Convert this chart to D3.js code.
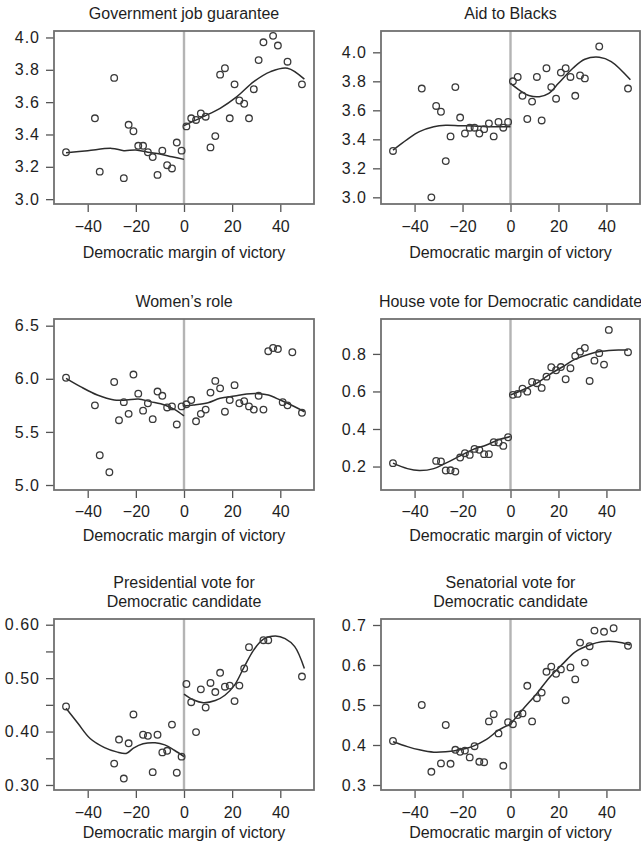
<!DOCTYPE html>
<html><head><meta charset="utf-8">
<script src="https://cdn.jsdelivr.net/npm/d3@7"></script>
<style>
body{margin:0;background:#fff;}
svg text{font-family:"Liberation Sans",Arial,Helvetica,sans-serif;fill:#1e1e1e;}
</style></head><body>
<svg id="chart" width="641" height="847"></svg>
<script>
// ---------------- DATA ----------------
const xTicks = [-40, -20, 0, 20, 40];
const xLabel = "Democratic margin of victory";

// Government job guarantee
const govX = [-49,-37,-35,-29,-25,-23,-21,-19,-17,-15,-13,-11,-9,-7,-5,-3,-1,1,3,5,7,9,11,13,15,17,19,21,23,25,27,29,31,33,37,39,43,49];
const govY = [3.29,3.50,3.17,3.75,3.13,3.46,3.42,3.33,3.33,3.29,3.26,3.15,3.30,3.21,3.19,3.35,3.30,3.45,3.50,3.49,3.53,3.51,3.32,3.39,3.77,3.81,3.50,3.71,3.61,3.59,3.50,3.68,3.86,3.97,4.01,3.95,3.85,3.71];
const govFitLX = [-49,-40,-30,-25,-20,-15,-10,-5,0];
const govFitLY = [3.287,3.300,3.314,3.300,3.304,3.290,3.279,3.262,3.246];
const govFitRX = [0,8,15,22,29,36,43,50];
const govFitRY = [3.455,3.510,3.562,3.634,3.727,3.789,3.810,3.742];
const govTicks = [3.0,3.2,3.4,3.6,3.8,4.0];

// Aid to Blacks
const aidX = [-49,-37,-33,-31,-29,-27,-25,-23,-21,-19,-17,-15,-13,-11,-9,-7,-5,-3,-1,1,3,5,7,9,11,13,15,17,19,21,23,25,27,29,31,37,49];
const aidY = [3.32,3.75,3.00,3.63,3.59,3.25,3.42,3.76,3.55,3.44,3.48,3.48,3.44,3.47,3.51,3.42,3.52,3.48,3.52,3.80,3.83,3.70,3.54,3.66,3.83,3.53,3.89,3.76,3.68,3.86,3.89,3.83,3.70,3.84,3.82,4.04,3.75];
const aidFitLX = [-49,-43,-38,-32,-27,-21,-15,-10,-5,0];
const aidFitLY = [3.326,3.400,3.453,3.487,3.497,3.494,3.492,3.487,3.487,3.487];
const aidFitRX = [0,4,8,12,16,20,26,31,37,42,50];
const aidFitRY = [3.786,3.736,3.700,3.694,3.717,3.786,3.890,3.952,3.966,3.936,3.810];
const aidTicks = [3.0,3.2,3.4,3.6,3.8,4.0];

// Women's role
const womX = [-49,-37,-35,-31,-29,-27,-25,-23,-21,-19,-17,-15,-13,-11,-9,-7,-5,-3,-1,1,3,5,7,9,11,13,15,17,19,21,23,25,27,29,31,33,35,37,39,41,43,45,49];
const womY = [6.01,5.75,5.28,5.12,5.97,5.61,5.78,5.67,6.04,5.86,5.70,5.77,5.62,5.88,5.84,5.73,5.74,5.57,5.74,5.76,5.80,5.60,5.67,5.71,5.87,5.98,5.91,5.69,5.80,5.94,5.77,5.79,5.74,5.71,5.84,5.71,6.26,6.29,6.28,5.78,5.75,6.25,5.68];
const womFitLX = [-49,-43,-36,-29,-24,-19,-14,-8,-4,0];
const womFitLY = [6.004,5.926,5.847,5.800,5.800,5.810,5.785,5.753,5.712,5.650];
const womFitRX = [0,4,10,15,21,26,31,35,40,46,50];
const womFitRY = [5.744,5.753,5.775,5.816,5.838,5.857,5.860,5.847,5.800,5.737,5.690];
const womTicks = [5.0,5.5,6.0,6.5];

// House vote for Democratic candidate
const houseX = [-49,-31,-29,-27,-25,-23,-21,-19,-17,-15,-13,-11,-9,-7,-5,-3,-1,1,3,5,7,9,11,13,15,17,19,21,23,25,27,29,31,33,35,37,39,41,49];
const houseY = [0.218,0.230,0.227,0.179,0.180,0.173,0.248,0.271,0.262,0.294,0.289,0.266,0.266,0.330,0.328,0.310,0.356,0.582,0.587,0.615,0.599,0.651,0.644,0.619,0.679,0.729,0.713,0.730,0.665,0.724,0.789,0.812,0.832,0.656,0.764,0.804,0.743,0.928,0.809];
const houseFitLX = [-49,-43,-38,-32,-27,-21,-16,-10,-5,0];
const houseFitLY = [0.218,0.189,0.179,0.189,0.218,0.257,0.289,0.315,0.342,0.360];
const houseFitRX = [0,5,11,16,22,27,33,38,45,49];
const houseFitRY = [0.582,0.608,0.644,0.688,0.733,0.772,0.800,0.814,0.821,0.821];
const houseTicks = [0.2,0.4,0.6,0.8];

// Presidential vote for Democratic candidate
const presX = [-49,-29,-27,-25,-23,-21,-17,-15,-13,-11,-9,-7,-5,-3,-1,1,3,5,7,9,11,13,15,17,19,21,23,25,27,33,35,49];
const presY = [0.447,0.340,0.385,0.312,0.378,0.432,0.394,0.392,0.324,0.394,0.361,0.364,0.413,0.323,0.353,0.489,0.455,0.399,0.479,0.445,0.491,0.474,0.510,0.484,0.486,0.457,0.486,0.518,0.558,0.571,0.571,0.503];
const presFitLX = [-49,-44,-39,-33,-28,-24,-21,-17,-12,-8,-4,0];
const presFitLY = [0.4435,0.415,0.387,0.370,0.362,0.359,0.369,0.377,0.379,0.375,0.365,0.353];
const presFitRX = [0,4,8,13,17,21,25,29,33,38,42,46,50];
const presFitRY = [0.470,0.459,0.454,0.458,0.468,0.487,0.521,0.553,0.573,0.579,0.574,0.559,0.518];
const presTicks = [0.30,0.35,0.40,0.45,0.50,0.55,0.60];
const presLabelled = [0.30,0.40,0.50,0.60];

// Senatorial vote for Democratic candidate
const senX = [-49,-37,-33,-29,-27,-25,-23,-21,-19,-17,-15,-13,-11,-9,-7,-5,-3,-1,1,3,5,7,9,11,13,15,17,19,21,23,25,27,29,31,33,35,39,43,49];
const senY = [0.410,0.500,0.333,0.354,0.450,0.353,0.388,0.383,0.386,0.369,0.397,0.358,0.357,0.459,0.477,0.429,0.348,0.457,0.452,0.475,0.479,0.548,0.459,0.517,0.531,0.583,0.596,0.578,0.589,0.512,0.594,0.564,0.656,0.606,0.647,0.686,0.683,0.692,0.648];
const senFitLX = [-49,-43,-38,-32,-27,-21,-16,-10,-5,0];
const senFitLY = [0.408,0.396,0.388,0.382,0.383,0.388,0.396,0.414,0.437,0.452];
const senFitRX = [0,5,11,16,22,27,33,38,44,50];
const senFitRY = [0.452,0.488,0.529,0.567,0.604,0.633,0.650,0.658,0.658,0.650];
const senTicks = [0.3,0.4,0.5,0.6,0.7];

// ---------------- PANELS ----------------
const panels = [
  {title:["Government job guarantee"], x:govX, y:govY, fl:[govFitLX,govFitLY], fr:[govFitRX,govFitRY], ticks:govTicks, labelled:govTicks, fmt:d3.format(".1f"), dom:[2.97,4.04], col:0, row:0},
  {title:["Aid to Blacks"], x:aidX, y:aidY, fl:[aidFitLX,aidFitLY], fr:[aidFitRX,aidFitRY], ticks:aidTicks, labelled:aidTicks, fmt:d3.format(".1f"), dom:[2.954,4.147], col:1, row:0},
  {title:["Women\u2019s role"], x:womX, y:womY, fl:[womFitLX,womFitLY], fr:[womFitRX,womFitRY], ticks:womTicks, labelled:womTicks, fmt:d3.format(".1f"), dom:[4.953,6.563], col:0, row:1},
  {title:["House vote for Democratic candidate"], x:houseX, y:houseY, fl:[houseFitLX,houseFitLY], fr:[houseFitRX,houseFitRY], ticks:houseTicks, labelled:houseTicks, fmt:d3.format(".1f"), dom:[0.075,0.986], col:1, row:1},
  {title:["Presidential vote for","Democratic candidate"], x:presX, y:presY, fl:[presFitLX,presFitLY], fr:[presFitRX,presFitRY], ticks:presTicks, labelled:presLabelled, fmt:d3.format(".2f"), dom:[0.2906,0.6107], col:0, row:2},
  {title:["Senatorial vote for","Democratic candidate"], x:senX, y:senY, fl:[senFitLX,senFitLY], fr:[senFitRX,senFitRY], ticks:senTicks, labelled:senTicks, fmt:d3.format(".1f"), dom:[0.2875,0.715], col:1, row:2}
];

// layout
const cols = [{left:54,right:314},{left:381,right:640}];
const rows = [
  {top:31, bottom:204, titleBase:[19], tickPad:9, labelBase:258},
  {top:319, bottom:490, titleBase:[307], tickPad:8, labelBase:541},
  {top:619, bottom:790, titleBase:[588,607], tickPad:9, labelBase:838}
];
const FS = 16;

const svg = d3.select("#chart");
svg.append("rect").attr("width",641).attr("height",847).attr("fill","#fff");

panels.forEach(p => {
  const c = cols[p.col], r = rows[p.row];
  const xs = d3.scaleLinear().domain([-54,54]).range([c.left,c.right]);
  const ys = d3.scaleLinear().domain(p.dom).range([r.bottom,r.top]);
  const g = svg.append("g");

  // zero line
  g.append("line").attr("x1",xs(0)).attr("x2",xs(0)).attr("y1",r.top).attr("y2",r.bottom)
    .attr("stroke","#b4b4b4").attr("stroke-width",2.4);

  // axes
  const yAx = d3.axisLeft(ys).tickValues(p.ticks).tickSize(8).tickPadding(6)
    .tickFormat(v => p.labelled.some(l => Math.abs(l-v)<1e-9) ? p.fmt(v) : "");
  const ya = g.append("g").attr("transform",`translate(${c.left},0)`).call(yAx);
  const xAx = d3.axisBottom(xs).tickValues(xTicks).tickSize(8).tickPadding(r.tickPad).tickFormat(d3.format("d"));
  const xa = g.append("g").attr("transform",`translate(0,${r.bottom})`).call(xAx);
  [ya,xa].forEach(a => {
    a.select(".domain").remove();
    a.selectAll(".tick line").attr("stroke","#555").attr("stroke-width",1.3);
    a.selectAll(".tick text").attr("font-size",FS).attr("fill","#1e1e1e");
  });
  ya.selectAll(".tick text").attr("letter-spacing","1px");

  // box
  g.append("rect").attr("x",c.left).attr("y",r.top).attr("width",c.right-c.left).attr("height",r.bottom-r.top)
    .attr("fill","none").attr("stroke","#707070").attr("stroke-width",1.8);

  // fits
  const line = d3.line().x(d=>xs(d[0])).y(d=>ys(d[1])).curve(d3.curveCatmullRom.alpha(0.5));
  [p.fl,p.fr].forEach(f => {
    g.append("path").datum(d3.zip(f[0],f[1])).attr("d",line)
      .attr("fill","none").attr("stroke","#2c2c2c").attr("stroke-width",1.5);
  });

  // points
  g.selectAll("circle.pt").data(d3.zip(p.x,p.y)).join("circle").attr("class","pt")
    .attr("cx",d=>xs(d[0])).attr("cy",d=>ys(d[1])).attr("r",3.3)
    .attr("fill","none").attr("stroke","#3a3a3a").attr("stroke-width",1.3);

  // title
  const cx = (c.left+c.right)/2;
  p.title.forEach((t,i) => {
    g.append("text").attr("x",cx).attr("y",r.titleBase[i]).attr("text-anchor","middle")
      .attr("font-size",FS).text(t);
  });
  // x label
  g.append("text").attr("x",cx).attr("y",r.labelBase).attr("text-anchor","middle")
    .attr("font-size",FS).text(xLabel);
});
</script>
</body></html>
